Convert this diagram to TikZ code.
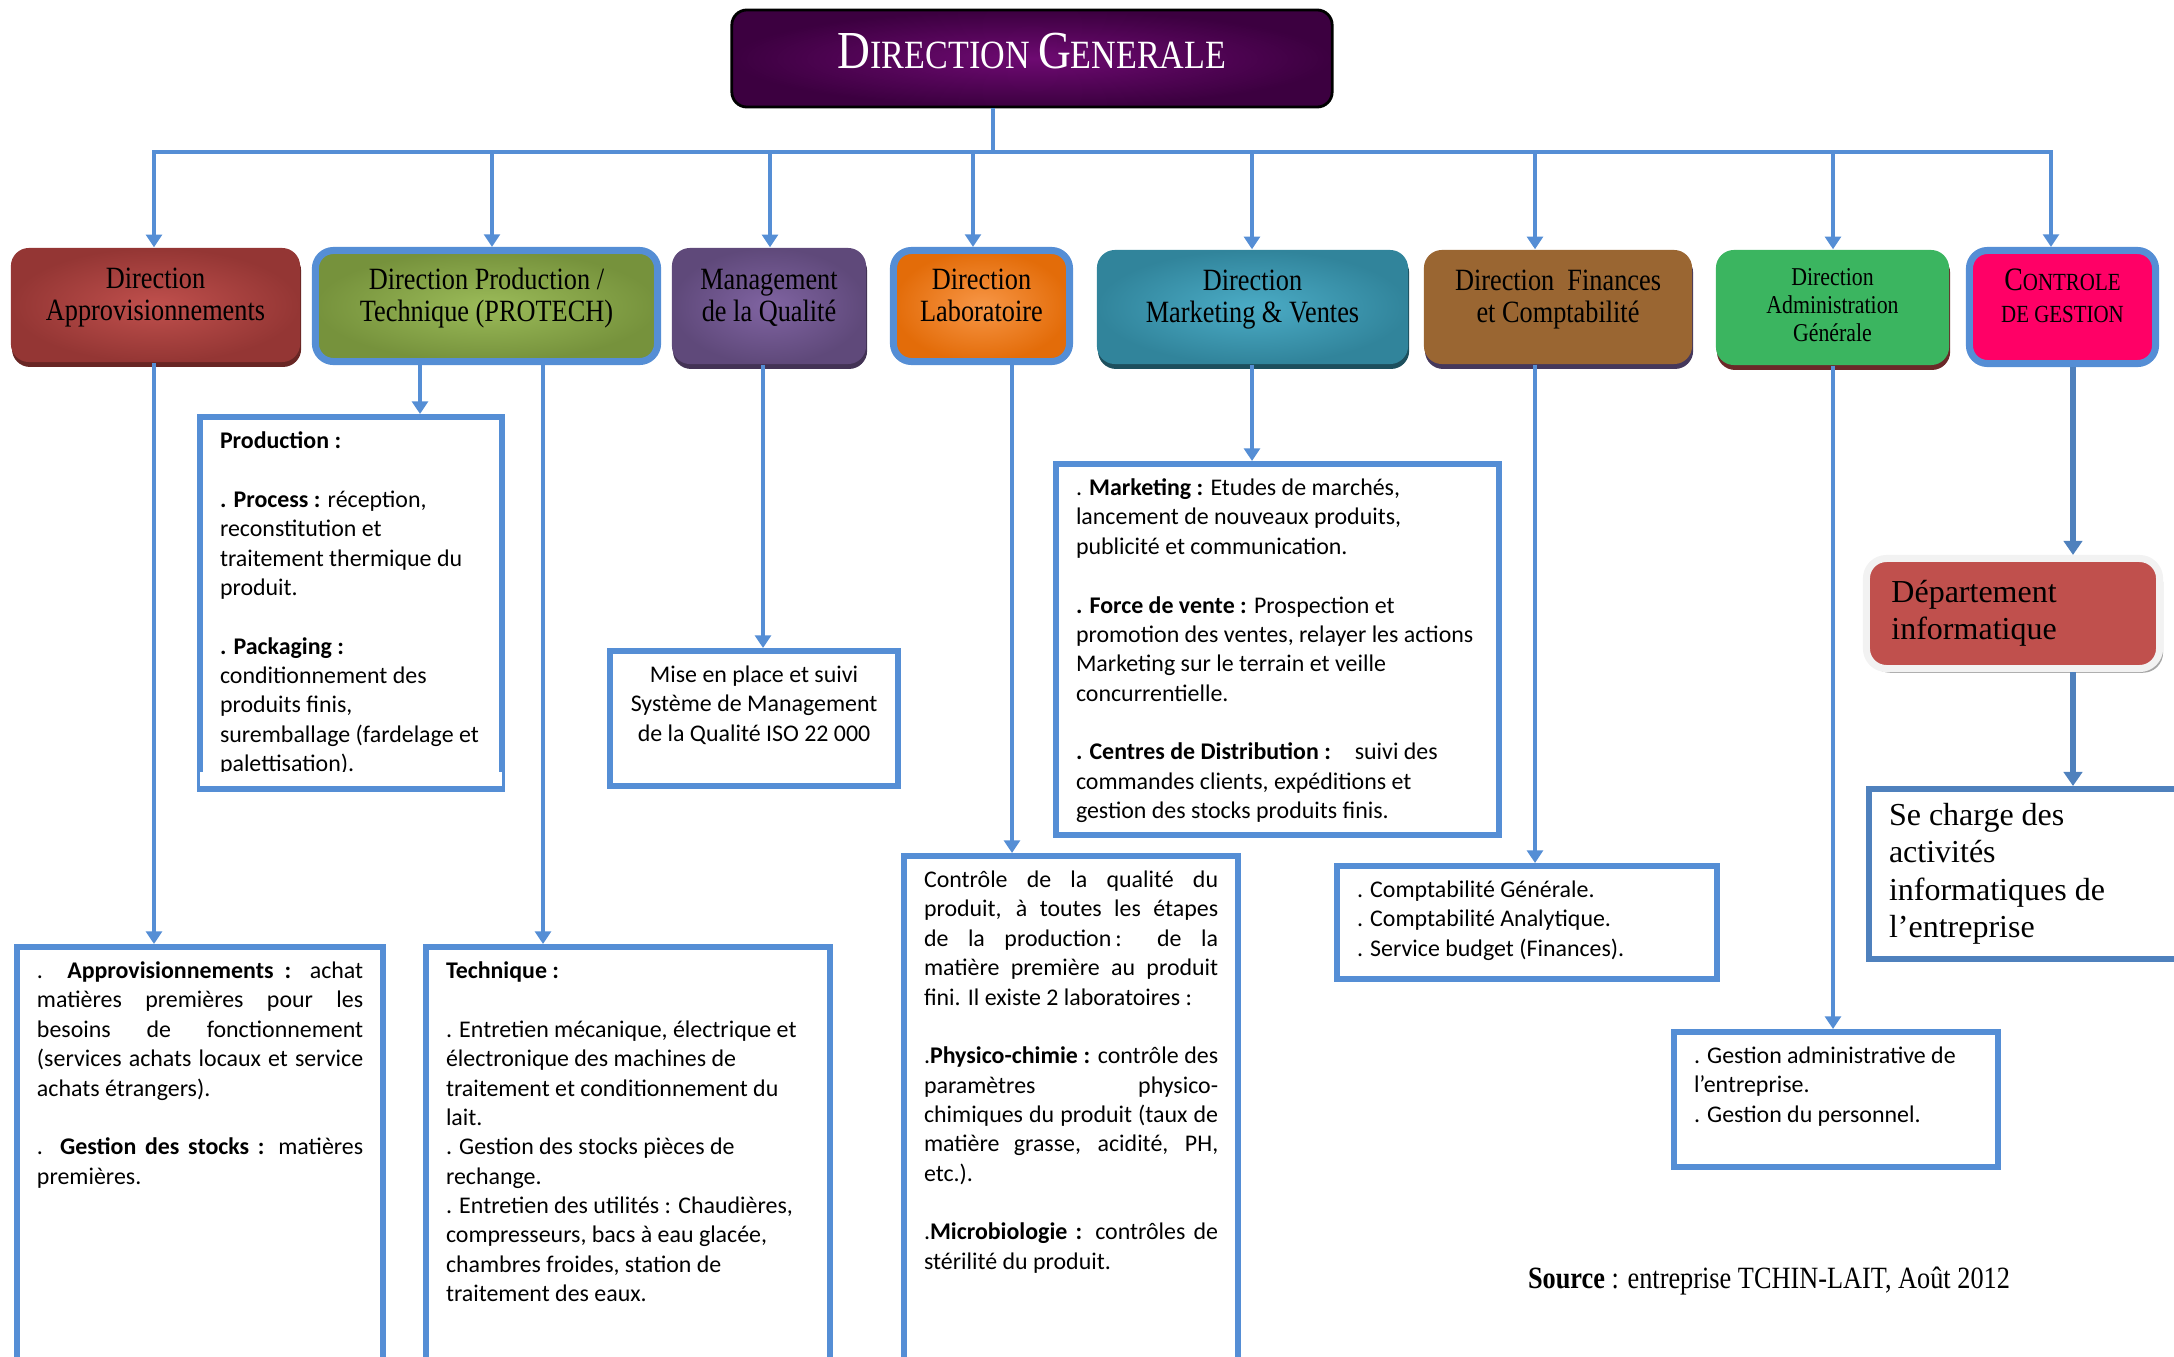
\documentclass[tikz,border=0pt]{standalone}
\usepackage{fontspec}
\setmainfont{Liberation Serif}
\newfontfamily\condserif[FakeStretch=0.85]{Liberation Serif}
\newfontfamily\calib{Carlito}
\usetikzlibrary{arrows.meta, positioning, shadows, calc}
\definecolor{bl}{HTML}{558ED5}
\definecolor{bldk}{HTML}{4F81BD}
\definecolor{dgin}{HTML}{6E0A72}
\definecolor{dgout}{HTML}{3C0040}
\definecolor{rdin}{HTML}{C0504D}
\definecolor{rdout}{HTML}{943634}
\definecolor{gnin}{HTML}{9BBB59}
\definecolor{gnout}{HTML}{76923C}
\definecolor{vin}{HTML}{8064A2}
\definecolor{vout}{HTML}{5F497A}
\definecolor{orin}{HTML}{F79646}
\definecolor{orout}{HTML}{E36C09}
\definecolor{tqin}{HTML}{4BACC6}
\definecolor{tqout}{HTML}{31849B}
\definecolor{brn}{HTML}{9A6632}
\definecolor{grn}{HTML}{3BB560}
\definecolor{pnk}{HTML}{FF0066}
\definecolor{fshd}{HTML}{45385C}
\definecolor{ashd}{HTML}{6B2828}
\newcommand\jline[1]{\makebox[\linewidth][s]{#1}}

\begin{document}
\begin{tikzpicture}[x=0.01cm, y=-0.01cm,
  ln/.style={line width=1.4pt, bl},
  arr/.style={-{Triangle[width=4.5pt,length=3.6pt]}, line width=1.4pt, bl},
  arrdk/.style={-{Triangle[width=5.2pt,length=4pt]}, line width=1.6pt, bldk},
  dir/.style={rounded corners=0.18cm, align=center, inner sep=0pt, text depth=6.3pt,
              font=\condserif\fontsize{8.8}{9.1}\selectfont},
  shd/.style={drop shadow={shadow xshift=0.3pt, shadow yshift=-1.4pt, opacity=1, fill=#1}},
  blframe/.style={draw=bl, line width=2pt},
  tb/.style={draw=bl, line width=1.7pt, fill=white, anchor=north west,
             inner xsep=0.2cm, inner ysep=0.14cm, font=\calib\fontsize{6.8}{8.35}\selectfont}
]
\useasboundingbox (0,0) rectangle (2174,1357);
\clip (0,0) rectangle (2174,1357);

% direction generale
\node[rounded corners=0.15cm, draw=black, line width=0.8pt, inner color=dgin, outer color=dgout,
      minimum width=6cm, minimum height=0.97cm, text depth=4.6pt, text=white, font=\condserif] (dg) at (1032,58.5)
  {{\fontsize{15.2}{16}\selectfont D}\fontsize{11.4}{16}\selectfont IRECTION {\fontsize{15.2}{16}\selectfont G}ENERALE};

% directions
\node[dir, shd=rdout!70!black, inner color=rdin, outer color=rdout, minimum width=2.89cm, minimum height=1.14cm] (a1) at (155.5,305) {Direction\\Approvisionnements};
\node[dir, blframe, inner color=gnin, outer color=gnout, minimum width=3.42cm, minimum height=1.11cm] (a2) at (486.5,306) {Direction Production /\\Technique (PROTECH)};
\node[dir, shd=vout!70!black, inner color=vin, outer color=vout, minimum width=1.94cm, minimum height=1.16cm] (a3) at (769,306) {Management\\de la Qualité};
\node[dir, blframe, inner color=orin, outer color=orout, minimum width=1.76cm, minimum height=1.11cm] (a4) at (981.5,306) {Direction\\Laboratoire};
\node[dir, shd=tqout!60!black, inner color=tqin, outer color=tqout, minimum width=3.11cm, minimum height=1.14cm] (a5) at (1252.5,307) {Direction\\Marketing \& Ventes};
\node[dir, shd=fshd, fill=brn, minimum width=2.68cm, minimum height=1.14cm] (a6) at (1558,307) {Direction\ \ Finances\\et Comptabilité};
\node[dir, shd=ashd, fill=grn, minimum width=2.33cm, minimum height=1.15cm, text depth=1.5pt,
      font=\condserif\fontsize{7.3}{7.9}\selectfont] (a7) at (1832.5,307.5) {Direction\\Administration\\Générale};
\node[dir, blframe, fill=pnk, minimum width=1.86cm, minimum height=1.13cm, font=\condserif\fontsize{9.3}{9.1}\selectfont] (a8) at (2062.5,307)
  {C{\fontsize{7}{9}\selectfont ONTROLE}\\{\fontsize{7}{9}\selectfont DE GESTION}};

% boxes of tasks
\node[tb] (tP) at (197,414) {\parbox[c][3.41cm][t]{2.62cm}{\rule{0pt}{5pt}\textbf{Production :}\\[8.35pt]
  \textbf{. Process :} réception,\\reconstitution et\\traitement thermique du\\produit.\\[8.35pt]
  \textbf{. Packaging :}\\conditionnement des\\produits finis,\\suremballage (fardelage et\\palettisation).}};
\fill[white] ($(tP.south west)+(3,-17)$) rectangle ($(tP.south east)+(-3,0)$);
\draw[bl, line width=1.7pt] (tP.south west) -- (tP.south east);

\node[tb] (tM) at (607,648) {\parbox[c][1.07cm][t]{2.48cm}{\centering\rule{0pt}{5pt}Mise en place et suivi\\Système de Management\\de la Qualité ISO 22 000}};

\node[tb] (tK) at (1053,461) {\parbox[c][3.43cm][t]{4.03cm}{\rule{0pt}{5pt}. \textbf{Marketing :} Etudes de marchés,\\
  lancement de nouveaux produits,\\publicité et communication.\\[8.35pt]
  \textbf{. Force de vente :} Prospection et\\promotion des ventes, relayer les actions\\Marketing sur le terrain et veille\\concurrentielle.\\[8.35pt]
  \textbf{. Centres de Distribution :}\quad suivi des\\commandes clients, expéditions et\\gestion des stocks produits finis.}};

\node[tb] (tF) at (1334,863) {\parbox[c][0.85cm][t]{3.4cm}{\rule{0pt}{5pt}. Comptabilité Générale.\\. Comptabilité Analytique.\\. Service budget (Finances).}};

\node[tb] (tD) at (1671,1029) {\parbox[c][1.07cm][t]{2.84cm}{\rule{0pt}{5pt}. Gestion administrative de\\l’entreprise.\\. Gestion du personnel.}};

\node[tb] (tA) at (14,944) {\parbox[c][4.08cm][t]{3.26cm}{\rule{0pt}{5pt}\jline{. \textbf{Approvisionnements :} achat}\\
  \jline{matières premières pour les}\\\jline{besoins de fonctionnement}\\
  \jline{(services achats locaux et service}\\achats étrangers).\\[8.35pt]
  \jline{. \textbf{Gestion des stocks :} matières}\\premières.}};

\node[tb] (tT) at (423,944) {\parbox[c][4.08cm][t]{3.64cm}{\rule{0pt}{5pt}\textbf{Technique :}\\[8.35pt]
  . Entretien mécanique, électrique et\\électronique des machines de\\traitement et conditionnement du\\lait.\\
  . Gestion des stocks pièces de\\rechange.\\
  . Entretien des utilités : Chaudières,\\compresseurs, bacs à eau glacée,\\chambres froides, station de\\traitement des eaux.}};

\node[tb] (tL) at (901,853) {\parbox[c][4.99cm][t]{2.94cm}{\rule{0pt}{5pt}\jline{Contrôle de la qualité du}\\
  \jline{produit, à toutes les étapes}\\\jline{de la production\,: de la}\\
  \jline{matière première au produit}\\fini. Il existe 2 laboratoires :\\[8.35pt]
  \jline{.\textbf{Physico-chimie :} contrôle des}\\\jline{paramètres physico-}\\
  \jline{chimiques du produit (taux de}\\\jline{matière grasse, acidité, PH,}\\etc.).\\[8.35pt]
  \jline{.\textbf{Microbiologie :} contrôles de}\\stérilité du produit.}};

% informatique
\node[rounded corners=0.2cm, draw=gray!10, line width=2pt, fill=rdin,
      drop shadow={shadow xshift=1pt, shadow yshift=-1.2pt, opacity=1, fill=gray!70},
      minimum width=2.93cm, minimum height=1.1cm, text width=2.43cm, align=left, inner sep=0pt,
      font=\fontsize{9.1}{10.5}\selectfont] (dep) at (2013,613.5) {Département\\informatique};
\node[tb, draw=bldk, inner ysep=0.12cm, font=\fontsize{9.1}{10.6}\selectfont] (tI) at (1866,786)
  {\parbox[c][1.46cm][t]{3.04cm}{\rule{0pt}{7pt}Se charge des\\activités\\informatiques de\\l’entreprise}};

% connectors
\coordinate (bus) at (993,152);
\draw[ln] (dg.south -| bus) -- (bus);
\foreach \n/\x in {a1/154, a2/492, a3/770, a4/973, a5/1252, a6/1535, a7/1833, a8/2051} {
  \coordinate (d\n) at (\x,152);
  \draw[arr] (d\n) -- (d\n |- \n.north);
}
\draw[ln, line cap=rect] (da1) -- (da8);

\coordinate (p1) at (420,0);
\coordinate (p2) at (543,0);
\coordinate (q1) at (763,0);
\coordinate (l1) at (1012,0);
\coordinate (c1) at (2073,0);
\draw[arr] (da1 |- a1.south) -- (da1 |- tA.north);
\draw[arr] (p1 |- a2.south) -- (p1 |- tP.north);
\draw[arr] (p2 |- a2.south) -- (p2 |- tT.north);
\draw[arr] (q1 |- a3.south) -- (q1 |- tM.north);
\draw[arr] (l1 |- a4.south) -- (l1 |- tL.north);
\draw[arr] (da5 |- a5.south) -- (da5 |- tK.north);
\draw[arr] (da6 |- a6.south) -- (da6 |- tF.north);
\draw[arr] (da7 |- a7.south) -- (da7 |- tD.north);
\draw[arrdk] (c1 |- a8.south) -- (c1 |- dep.north);
\draw[arrdk] (c1 |- dep.south) -- (c1 |- tI.north);

\node[font=\condserif\fontsize{8.8}{10}\selectfont] (src) at (1769,1281) {\textbf{Source} : entreprise TCHIN-LAIT, Août 2012};
\end{tikzpicture}
\end{document}
